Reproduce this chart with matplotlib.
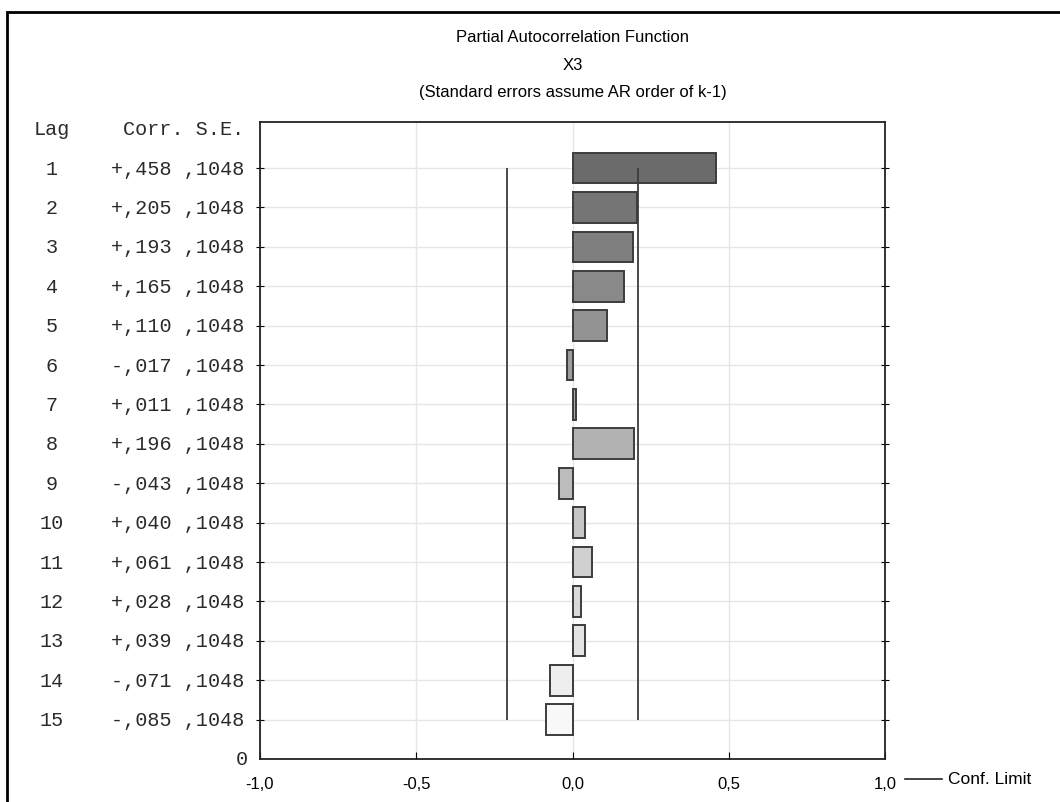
import matplotlib.pyplot as plt
from matplotlib.transforms import blended_transform_factory
from matplotlib.patches import Rectangle
from matplotlib.lines import Line2D

# PACF values for X3
lags = [1, 2, 3, 4, 5, 6, 7, 8, 9, 10, 11, 12, 13, 14, 15]
corr = [0.458, 0.205, 0.193, 0.165, 0.110, -0.017, 0.011, 0.196,
        -0.043, 0.040, 0.061, 0.028, 0.039, -0.071, -0.085]
se = [0.1048] * 15
xticks = [-1.0, -0.5, 0.0, 0.5, 1.0]
xtick_labels = ["-1,0", "-0,5", "0,0", "0,5", "1,0"]

W, H = 1060, 803
fig = plt.figure(figsize=(W / 100, H / 100), dpi=100)
ax = fig.add_axes([260 / W, 1 - 760 / H, 625 / W, (760 - 123) / H])

sans = "Liberation Sans"
mono = "Liberation Mono"
mono_size = 14.5
mono_col = "#2a2a2a"

# bar shades go from dark grey to almost white
n = len(lags)
shades = [(107 + (248 - 107) * i / (n - 1)) / 255 for i in range(n)]
colors = [(s, s, s) for s in shades]

ax.barh(lags, corr, height=0.78, color=colors, edgecolor="#3c3c3c",
        linewidth=1.4, zorder=3)

# confidence limits (2 * S.E.)
conf = [2 * s for s in se]
ax.vlines([-conf[0], conf[0]], lags[0], lags[-1], color="#3c3c3c",
          linewidth=1.3, zorder=4)

ax.set_xlim(-1, 1)
ax.set_ylim(16, -0.17)
ax.set_xticks(xticks)
ax.set_xticklabels(xtick_labels, fontfamily=sans, fontsize=12)
ax.set_yticks(lags)
ax.set_yticklabels([])
ax.grid(True, color="#e6e6e6", linewidth=1, zorder=0)
ax.set_axisbelow(True)
for sp in ax.spines.values():
    sp.set_linewidth(1.3)
    sp.set_color("#222222")
ax.tick_params(axis="x", direction="in", length=5, pad=12, top=False)
ax.tick_params(axis="y", direction="inout", length=6, right=True)

# left text table
tr = blended_transform_factory(fig.transFigure, ax.transData)
ax.text(52 / W, 0, "Lag", transform=tr, ha="center", va="center",
        fontfamily=mono, fontsize=mono_size, color=mono_col)
ax.text(244 / W, 0, "Corr. S.E.", transform=tr, ha="right", va="center",
        fontfamily=mono, fontsize=mono_size, color=mono_col)
for lag, c, s in zip(lags, corr, se):
    cs = ("+" if c >= 0 else "-") + ("%.3f" % abs(c))[1:].replace(".", ",")
    ss = ("%.4f" % s)[1:].replace(".", ",")
    ax.text(52 / W, lag, str(lag), transform=tr, ha="center", va="center",
            fontfamily=mono, fontsize=mono_size, color=mono_col)
    ax.text(244 / W, lag, cs + " " + ss, transform=tr, ha="right",
            va="center", fontfamily=mono, fontsize=mono_size, color=mono_col)
ax.text(248 / W, 16, "0", transform=tr, ha="right", va="center",
        fontfamily=mono, fontsize=mono_size, color=mono_col)

# titles
cx = (260 + 885) / 2 / W
fig.text(cx, 1 - 38 / H, "Partial Autocorrelation Function", ha="center",
         va="center", fontfamily=sans, fontsize=12)
fig.text(cx, 1 - 65 / H, "X3", ha="center", va="center",
         fontfamily=sans, fontsize=12)
fig.text(cx, 1 - 92 / H, "(Standard errors assume AR order of k-1)",
         ha="center", va="center", fontfamily=sans, fontsize=12)

# legend for confidence limit
fig.add_artist(Line2D([905 / W, 942 / W], [1 - 780 / H, 1 - 780 / H],
                      color="#222222", linewidth=1.2))
fig.text(948 / W, 1 - 780 / H, "Conf. Limit", ha="left", va="center",
         fontfamily=sans, fontsize=12.5)

# outer frame
fig.add_artist(Rectangle((7 / W, -0.1), 1.2, 1.1 - 13 / H,
                         transform=fig.transFigure, fill=False,
                         edgecolor="black", linewidth=2))

fig.savefig("out.png", dpi=100)
